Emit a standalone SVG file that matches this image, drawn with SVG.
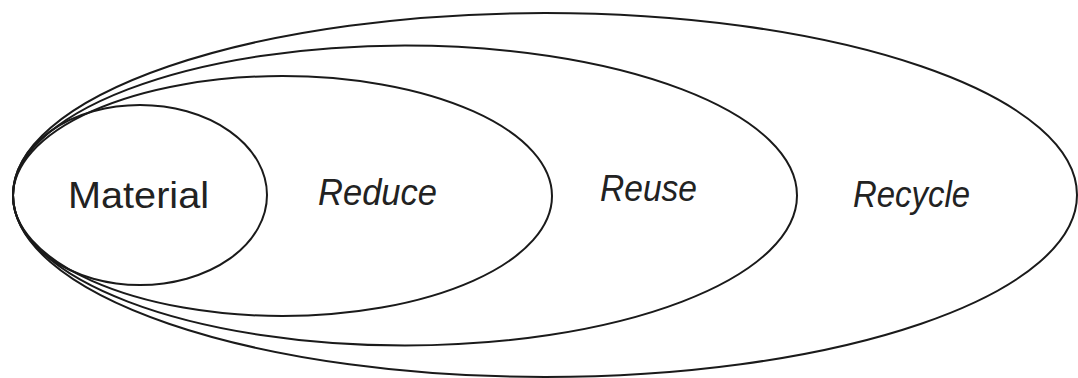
<svg xmlns="http://www.w3.org/2000/svg" width="1078" height="378" viewBox="0 0 1078 378">
  <style>
    .ring { fill: none; stroke: #1a1a1a; stroke-width: 2; }
    .label { font-family: "Liberation Sans", Arial, sans-serif; font-size: 36px; fill: #222; text-anchor: middle; }
    .it { font-style: italic; }
  </style>
  <rect width="1078" height="378" fill="#ffffff"/>
  <!-- Nested ellipses, all tangent at the left edge -->
  <g id="recycle">
    <ellipse class="ring" cx="545" cy="195" rx="532" ry="182"/>
    <text class="label it" x="911.5" y="207" textLength="117" lengthAdjust="spacingAndGlyphs">Recycle</text>
  </g>
  <g id="reuse">
    <ellipse class="ring" cx="405" cy="195.5" rx="392" ry="150"/>
    <text class="label it" x="648.5" y="201" textLength="97" lengthAdjust="spacingAndGlyphs">Reuse</text>
  </g>
  <g id="reduce">
    <ellipse class="ring" cx="282.5" cy="196" rx="269.5" ry="120"/>
    <text class="label it" x="377.5" y="205" textLength="119" lengthAdjust="spacingAndGlyphs">Reduce</text>
  </g>
  <g id="material">
    <ellipse class="ring" cx="140" cy="195" rx="127" ry="90"/>
    <text class="label" x="138.5" y="208" textLength="141" lengthAdjust="spacingAndGlyphs">Material</text>
  </g>
</svg>
